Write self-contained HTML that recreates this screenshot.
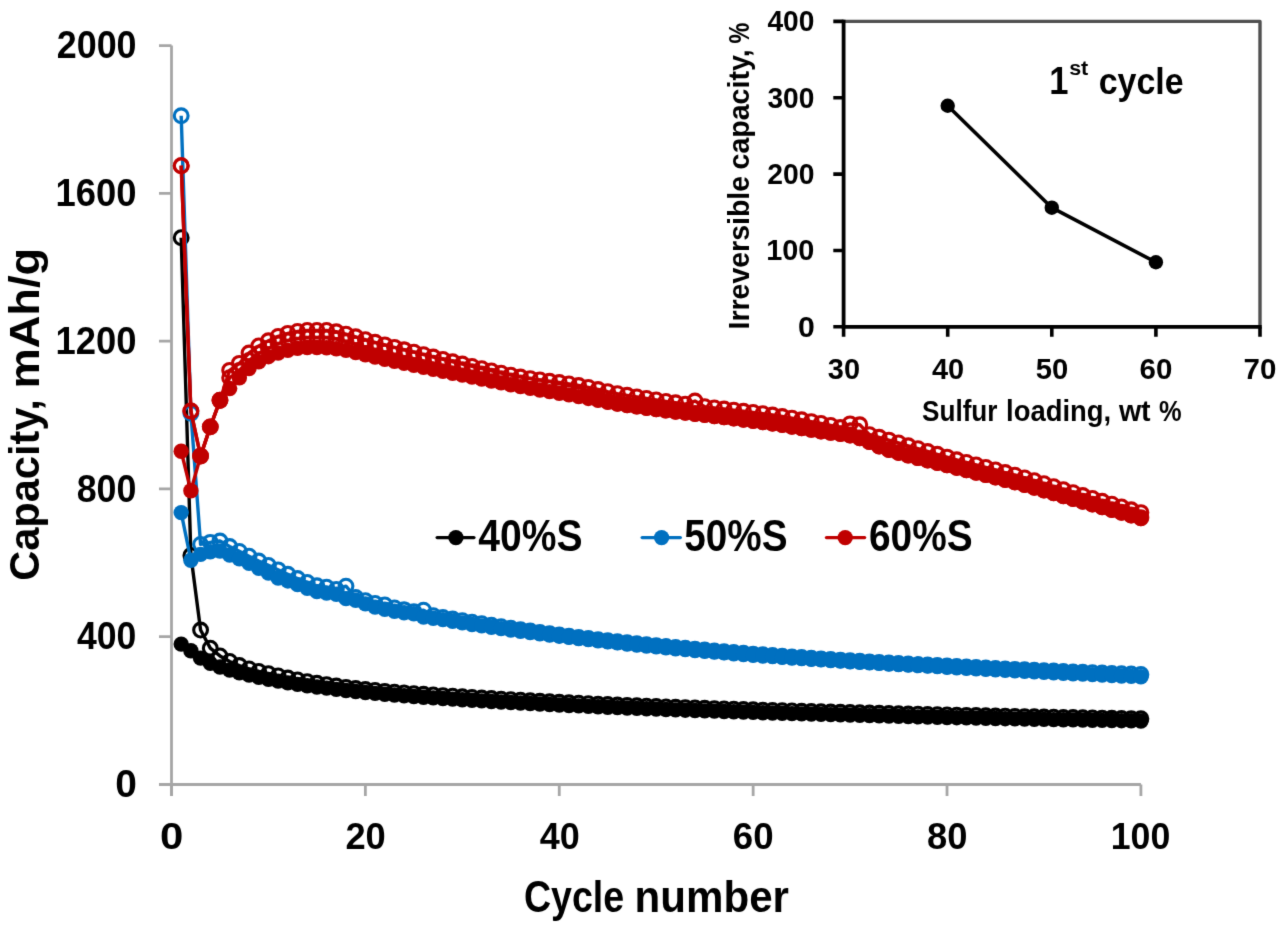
<!DOCTYPE html>
<html><head><meta charset="utf-8"><title>Capacity vs cycle number</title>
<style>html,body{margin:0;padding:0;background:#fff;overflow:hidden}svg{display:block}</style></head>
<body><svg width="1280" height="927" viewBox="0 0 1280 927">
<defs><filter id="soft" x="-2%" y="-2%" width="104%" height="104%" color-interpolation-filters="sRGB"><feConvolveMatrix order="3" kernelMatrix="0.0121 0.0858 0.0121 0.0858 0.6084 0.0858 0.0121 0.0858 0.0121" divisor="1" edgeMode="duplicate" preserveAlpha="false"/></filter></defs>
<rect width="1280" height="927" fill="#fff"/>
<g filter="url(#soft)">
<path d="M171.50,45.60 L171.50,796 M159,784.50 L1140.90,784.50" stroke="#a6a6a6" stroke-width="2.8" fill="none"/><path d="M159,784.50 L171.50,784.50 M159,636.72 L171.50,636.72 M159,488.94 L171.50,488.94 M159,341.16 L171.50,341.16 M159,193.38 L171.50,193.38 M159,45.60 L171.50,45.60 M171.50,784.50 L171.50,796 M365.38,784.50 L365.38,796 M559.26,784.50 L559.26,796 M753.14,784.50 L753.14,796 M947.02,784.50 L947.02,796 M1140.90,784.50 L1140.90,796 " stroke="#a6a6a6" stroke-width="2.8" fill="none"/>
<path d="M181.19,237.71 L190.89,555.44 L200.58,630.07 L210.28,648.17 L219.97,655.93 L229.66,661.47 L239.36,665.54 L249.05,668.86 L258.75,671.41 L268.44,673.66 L278.13,675.88 L287.83,678.00 L297.52,679.95 L307.22,681.70 L316.91,683.27 L326.60,684.71 L336.30,686.07 L345.99,687.35 L355.69,688.52 L365.38,689.55 L375.07,690.47 L384.77,691.33 L394.46,692.14 L404.16,692.90 L413.85,693.62 L423.54,694.30 L433.24,694.96 L442.93,695.59 L452.63,696.20 L462.32,696.80 L472.01,697.40 L481.71,697.98 L491.40,698.55 L501.10,699.12 L510.79,699.67 L520.48,700.21 L530.18,700.74 L539.87,701.26 L549.57,701.77 L559.26,702.26 L568.95,702.75 L578.65,703.22 L588.34,703.68 L598.04,704.13 L607.73,704.56 L617.42,704.99 L627.12,705.40 L636.81,705.79 L646.51,706.18 L656.20,706.55 L665.89,706.90 L675.59,707.26 L685.28,707.60 L694.98,707.94 L704.67,708.27 L714.36,708.59 L724.06,708.91 L733.75,709.22 L743.45,709.52 L753.14,709.82 L762.83,710.12 L772.53,710.40 L782.22,710.69 L791.92,710.97 L801.61,711.24 L811.30,711.51 L821.00,711.77 L830.69,712.03 L840.39,712.29 L850.08,712.54 L859.77,712.79 L869.47,713.03 L879.16,713.28 L888.86,713.51 L898.55,713.75 L908.24,713.99 L917.94,714.22 L927.63,714.45 L937.33,714.67 L947.02,714.90 L956.71,715.12 L966.41,715.34 L976.10,715.56 L985.80,715.77 L995.49,715.98 L1005.18,716.19 L1014.88,716.39 L1024.57,716.59 L1034.27,716.79 L1043.96,716.99 L1053.65,717.18 L1063.35,717.36 L1073.04,717.55 L1082.74,717.73 L1092.43,717.91 L1102.12,718.08 L1111.82,718.25 L1121.51,718.42 L1131.21,718.58 L1140.90,718.74" fill="none" stroke="#000000" stroke-width="3.4" stroke-linejoin="round"/>
<g fill="none" stroke="#000000" stroke-width="3.1"><circle cx="181.19" cy="237.71" r="6.90"/><circle cx="190.89" cy="555.44" r="6.90"/><circle cx="200.58" cy="630.07" r="6.90"/><circle cx="210.28" cy="648.17" r="6.90"/><circle cx="219.97" cy="655.93" r="6.90"/><circle cx="229.66" cy="661.47" r="6.90"/><circle cx="239.36" cy="665.54" r="6.90"/><circle cx="249.05" cy="668.86" r="6.90"/><circle cx="258.75" cy="671.41" r="6.90"/><circle cx="268.44" cy="673.66" r="6.90"/><circle cx="278.13" cy="675.88" r="6.90"/><circle cx="287.83" cy="678.00" r="6.90"/><circle cx="297.52" cy="679.95" r="6.90"/><circle cx="307.22" cy="681.70" r="6.90"/><circle cx="316.91" cy="683.27" r="6.90"/><circle cx="326.60" cy="684.71" r="6.90"/><circle cx="336.30" cy="686.07" r="6.90"/><circle cx="345.99" cy="687.35" r="6.90"/><circle cx="355.69" cy="688.52" r="6.90"/><circle cx="365.38" cy="689.55" r="6.90"/><circle cx="375.07" cy="690.47" r="6.90"/><circle cx="384.77" cy="691.33" r="6.90"/><circle cx="394.46" cy="692.14" r="6.90"/><circle cx="404.16" cy="692.90" r="6.90"/><circle cx="413.85" cy="693.62" r="6.90"/><circle cx="423.54" cy="694.30" r="6.90"/><circle cx="433.24" cy="694.96" r="6.90"/><circle cx="442.93" cy="695.59" r="6.90"/><circle cx="452.63" cy="696.20" r="6.90"/><circle cx="462.32" cy="696.80" r="6.90"/><circle cx="472.01" cy="697.40" r="6.90"/><circle cx="481.71" cy="697.98" r="6.90"/><circle cx="491.40" cy="698.55" r="6.90"/><circle cx="501.10" cy="699.12" r="6.90"/><circle cx="510.79" cy="699.67" r="6.90"/><circle cx="520.48" cy="700.21" r="6.90"/><circle cx="530.18" cy="700.74" r="6.90"/><circle cx="539.87" cy="701.26" r="6.90"/><circle cx="549.57" cy="701.77" r="6.90"/><circle cx="559.26" cy="702.26" r="6.90"/><circle cx="568.95" cy="702.75" r="6.90"/><circle cx="578.65" cy="703.22" r="6.90"/><circle cx="588.34" cy="703.68" r="6.90"/><circle cx="598.04" cy="704.13" r="6.90"/><circle cx="607.73" cy="704.56" r="6.90"/><circle cx="617.42" cy="704.99" r="6.90"/><circle cx="627.12" cy="705.40" r="6.90"/><circle cx="636.81" cy="705.79" r="6.90"/><circle cx="646.51" cy="706.18" r="6.90"/><circle cx="656.20" cy="706.55" r="6.90"/><circle cx="665.89" cy="706.90" r="6.90"/><circle cx="675.59" cy="707.26" r="6.90"/><circle cx="685.28" cy="707.60" r="6.90"/><circle cx="694.98" cy="707.94" r="6.90"/><circle cx="704.67" cy="708.27" r="6.90"/><circle cx="714.36" cy="708.59" r="6.90"/><circle cx="724.06" cy="708.91" r="6.90"/><circle cx="733.75" cy="709.22" r="6.90"/><circle cx="743.45" cy="709.52" r="6.90"/><circle cx="753.14" cy="709.82" r="6.90"/><circle cx="762.83" cy="710.12" r="6.90"/><circle cx="772.53" cy="710.40" r="6.90"/><circle cx="782.22" cy="710.69" r="6.90"/><circle cx="791.92" cy="710.97" r="6.90"/><circle cx="801.61" cy="711.24" r="6.90"/><circle cx="811.30" cy="711.51" r="6.90"/><circle cx="821.00" cy="711.77" r="6.90"/><circle cx="830.69" cy="712.03" r="6.90"/><circle cx="840.39" cy="712.29" r="6.90"/><circle cx="850.08" cy="712.54" r="6.90"/><circle cx="859.77" cy="712.79" r="6.90"/><circle cx="869.47" cy="713.03" r="6.90"/><circle cx="879.16" cy="713.28" r="6.90"/><circle cx="888.86" cy="713.51" r="6.90"/><circle cx="898.55" cy="713.75" r="6.90"/><circle cx="908.24" cy="713.99" r="6.90"/><circle cx="917.94" cy="714.22" r="6.90"/><circle cx="927.63" cy="714.45" r="6.90"/><circle cx="937.33" cy="714.67" r="6.90"/><circle cx="947.02" cy="714.90" r="6.90"/><circle cx="956.71" cy="715.12" r="6.90"/><circle cx="966.41" cy="715.34" r="6.90"/><circle cx="976.10" cy="715.56" r="6.90"/><circle cx="985.80" cy="715.77" r="6.90"/><circle cx="995.49" cy="715.98" r="6.90"/><circle cx="1005.18" cy="716.19" r="6.90"/><circle cx="1014.88" cy="716.39" r="6.90"/><circle cx="1024.57" cy="716.59" r="6.90"/><circle cx="1034.27" cy="716.79" r="6.90"/><circle cx="1043.96" cy="716.99" r="6.90"/><circle cx="1053.65" cy="717.18" r="6.90"/><circle cx="1063.35" cy="717.36" r="6.90"/><circle cx="1073.04" cy="717.55" r="6.90"/><circle cx="1082.74" cy="717.73" r="6.90"/><circle cx="1092.43" cy="717.91" r="6.90"/><circle cx="1102.12" cy="718.08" r="6.90"/><circle cx="1111.82" cy="718.25" r="6.90"/><circle cx="1121.51" cy="718.42" r="6.90"/><circle cx="1131.21" cy="718.58" r="6.90"/><circle cx="1140.90" cy="718.74" r="6.90"/></g>
<path d="M181.19,644.11 L190.89,650.76 L200.58,658.15 L210.28,663.32 L219.97,666.97 L229.66,669.97 L239.36,672.70 L249.05,675.16 L258.75,677.36 L268.44,679.34 L278.13,681.17 L287.83,682.85 L297.52,684.38 L307.22,685.74 L316.91,686.97 L326.60,688.17 L336.30,689.35 L345.99,690.48 L355.69,691.55 L365.38,692.51 L375.07,693.39 L384.77,694.23 L394.46,695.04 L404.16,695.81 L413.85,696.54 L423.54,697.24 L433.24,697.91 L442.93,698.55 L452.63,699.16 L462.32,699.75 L472.01,700.32 L481.71,700.89 L491.40,701.45 L501.10,701.99 L510.79,702.52 L520.48,703.04 L530.18,703.55 L539.87,704.05 L549.57,704.53 L559.26,705.01 L568.95,705.47 L578.65,705.92 L588.34,706.36 L598.04,706.79 L607.73,707.21 L617.42,707.61 L627.12,708.01 L636.81,708.40 L646.51,708.77 L656.20,709.13 L665.89,709.49 L675.59,709.84 L685.28,710.18 L694.98,710.51 L704.67,710.85 L714.36,711.17 L724.06,711.49 L733.75,711.80 L743.45,712.11 L753.14,712.42 L762.83,712.72 L772.53,713.01 L782.22,713.30 L791.92,713.58 L801.61,713.86 L811.30,714.13 L821.00,714.40 L830.69,714.66 L840.39,714.92 L850.08,715.17 L859.77,715.42 L869.47,715.67 L879.16,715.91 L888.86,716.14 L898.55,716.37 L908.24,716.60 L917.94,716.83 L927.63,717.04 L937.33,717.26 L947.02,717.47 L956.71,717.68 L966.41,717.89 L976.10,718.09 L985.80,718.29 L995.49,718.48 L1005.18,718.68 L1014.88,718.87 L1024.57,719.05 L1034.27,719.23 L1043.96,719.41 L1053.65,719.58 L1063.35,719.75 L1073.04,719.92 L1082.74,720.08 L1092.43,720.24 L1102.12,720.39 L1111.82,720.54 L1121.51,720.68 L1131.21,720.82 L1140.90,720.95" fill="none" stroke="#000000" stroke-width="3.4" stroke-linejoin="round"/>
<g fill="#000000"><circle cx="181.19" cy="644.11" r="7.70"/><circle cx="190.89" cy="650.76" r="7.70"/><circle cx="200.58" cy="658.15" r="7.70"/><circle cx="210.28" cy="663.32" r="7.70"/><circle cx="219.97" cy="666.97" r="7.70"/><circle cx="229.66" cy="669.97" r="7.70"/><circle cx="239.36" cy="672.70" r="7.70"/><circle cx="249.05" cy="675.16" r="7.70"/><circle cx="258.75" cy="677.36" r="7.70"/><circle cx="268.44" cy="679.34" r="7.70"/><circle cx="278.13" cy="681.17" r="7.70"/><circle cx="287.83" cy="682.85" r="7.70"/><circle cx="297.52" cy="684.38" r="7.70"/><circle cx="307.22" cy="685.74" r="7.70"/><circle cx="316.91" cy="686.97" r="7.70"/><circle cx="326.60" cy="688.17" r="7.70"/><circle cx="336.30" cy="689.35" r="7.70"/><circle cx="345.99" cy="690.48" r="7.70"/><circle cx="355.69" cy="691.55" r="7.70"/><circle cx="365.38" cy="692.51" r="7.70"/><circle cx="375.07" cy="693.39" r="7.70"/><circle cx="384.77" cy="694.23" r="7.70"/><circle cx="394.46" cy="695.04" r="7.70"/><circle cx="404.16" cy="695.81" r="7.70"/><circle cx="413.85" cy="696.54" r="7.70"/><circle cx="423.54" cy="697.24" r="7.70"/><circle cx="433.24" cy="697.91" r="7.70"/><circle cx="442.93" cy="698.55" r="7.70"/><circle cx="452.63" cy="699.16" r="7.70"/><circle cx="462.32" cy="699.75" r="7.70"/><circle cx="472.01" cy="700.32" r="7.70"/><circle cx="481.71" cy="700.89" r="7.70"/><circle cx="491.40" cy="701.45" r="7.70"/><circle cx="501.10" cy="701.99" r="7.70"/><circle cx="510.79" cy="702.52" r="7.70"/><circle cx="520.48" cy="703.04" r="7.70"/><circle cx="530.18" cy="703.55" r="7.70"/><circle cx="539.87" cy="704.05" r="7.70"/><circle cx="549.57" cy="704.53" r="7.70"/><circle cx="559.26" cy="705.01" r="7.70"/><circle cx="568.95" cy="705.47" r="7.70"/><circle cx="578.65" cy="705.92" r="7.70"/><circle cx="588.34" cy="706.36" r="7.70"/><circle cx="598.04" cy="706.79" r="7.70"/><circle cx="607.73" cy="707.21" r="7.70"/><circle cx="617.42" cy="707.61" r="7.70"/><circle cx="627.12" cy="708.01" r="7.70"/><circle cx="636.81" cy="708.40" r="7.70"/><circle cx="646.51" cy="708.77" r="7.70"/><circle cx="656.20" cy="709.13" r="7.70"/><circle cx="665.89" cy="709.49" r="7.70"/><circle cx="675.59" cy="709.84" r="7.70"/><circle cx="685.28" cy="710.18" r="7.70"/><circle cx="694.98" cy="710.51" r="7.70"/><circle cx="704.67" cy="710.85" r="7.70"/><circle cx="714.36" cy="711.17" r="7.70"/><circle cx="724.06" cy="711.49" r="7.70"/><circle cx="733.75" cy="711.80" r="7.70"/><circle cx="743.45" cy="712.11" r="7.70"/><circle cx="753.14" cy="712.42" r="7.70"/><circle cx="762.83" cy="712.72" r="7.70"/><circle cx="772.53" cy="713.01" r="7.70"/><circle cx="782.22" cy="713.30" r="7.70"/><circle cx="791.92" cy="713.58" r="7.70"/><circle cx="801.61" cy="713.86" r="7.70"/><circle cx="811.30" cy="714.13" r="7.70"/><circle cx="821.00" cy="714.40" r="7.70"/><circle cx="830.69" cy="714.66" r="7.70"/><circle cx="840.39" cy="714.92" r="7.70"/><circle cx="850.08" cy="715.17" r="7.70"/><circle cx="859.77" cy="715.42" r="7.70"/><circle cx="869.47" cy="715.67" r="7.70"/><circle cx="879.16" cy="715.91" r="7.70"/><circle cx="888.86" cy="716.14" r="7.70"/><circle cx="898.55" cy="716.37" r="7.70"/><circle cx="908.24" cy="716.60" r="7.70"/><circle cx="917.94" cy="716.83" r="7.70"/><circle cx="927.63" cy="717.04" r="7.70"/><circle cx="937.33" cy="717.26" r="7.70"/><circle cx="947.02" cy="717.47" r="7.70"/><circle cx="956.71" cy="717.68" r="7.70"/><circle cx="966.41" cy="717.89" r="7.70"/><circle cx="976.10" cy="718.09" r="7.70"/><circle cx="985.80" cy="718.29" r="7.70"/><circle cx="995.49" cy="718.48" r="7.70"/><circle cx="1005.18" cy="718.68" r="7.70"/><circle cx="1014.88" cy="718.87" r="7.70"/><circle cx="1024.57" cy="719.05" r="7.70"/><circle cx="1034.27" cy="719.23" r="7.70"/><circle cx="1043.96" cy="719.41" r="7.70"/><circle cx="1053.65" cy="719.58" r="7.70"/><circle cx="1063.35" cy="719.75" r="7.70"/><circle cx="1073.04" cy="719.92" r="7.70"/><circle cx="1082.74" cy="720.08" r="7.70"/><circle cx="1092.43" cy="720.24" r="7.70"/><circle cx="1102.12" cy="720.39" r="7.70"/><circle cx="1111.82" cy="720.54" r="7.70"/><circle cx="1121.51" cy="720.68" r="7.70"/><circle cx="1131.21" cy="720.82" r="7.70"/><circle cx="1140.90" cy="720.95" r="7.70"/></g>
<path d="M181.19,115.80 L190.89,413.20 L200.58,544.36 L210.28,542.33 L219.97,541.03 L229.66,546.57 L239.36,551.38 L249.05,556.18 L258.75,560.98 L268.44,565.42 L278.13,569.85 L287.83,574.28 L297.52,578.53 L307.22,582.41 L316.91,585.74 L326.60,587.21 L336.30,589.43 L345.99,586.11 L355.69,597.56 L365.38,600.66 L375.07,603.47 L384.77,604.95 L394.46,607.90 L404.16,609.75 L413.85,611.60 L423.54,610.12 L433.24,615.66 L442.93,617.38 L452.63,619.04 L462.32,620.64 L472.01,622.20 L481.71,623.72 L491.40,625.22 L501.10,626.71 L510.79,628.18 L520.48,629.62 L530.18,631.03 L539.87,632.40 L549.57,633.73 L559.26,635.01 L568.95,636.23 L578.65,637.40 L588.34,638.53 L598.04,639.63 L607.73,640.69 L617.42,641.72 L627.12,642.72 L636.81,643.70 L646.51,644.65 L656.20,645.59 L665.89,646.51 L675.59,647.41 L685.28,648.31 L694.98,649.19 L704.67,650.05 L714.36,650.90 L724.06,651.73 L733.75,652.54 L743.45,653.32 L753.14,654.08 L762.83,654.82 L772.53,655.54 L782.22,656.23 L791.92,656.90 L801.61,657.57 L811.30,658.22 L821.00,658.85 L830.69,659.48 L840.39,660.09 L850.08,660.69 L859.77,661.28 L869.47,661.85 L879.16,662.42 L888.86,662.97 L898.55,663.51 L908.24,664.04 L917.94,664.56 L927.63,665.07 L937.33,665.57 L947.02,666.06 L956.71,666.55 L966.41,667.03 L976.10,667.50 L985.80,667.97 L995.49,668.43 L1005.18,668.89 L1014.88,669.34 L1024.57,669.78 L1034.27,670.21 L1043.96,670.64 L1053.65,671.05 L1063.35,671.46 L1073.04,671.86 L1082.74,672.25 L1092.43,672.64 L1102.12,673.01 L1111.82,673.37 L1121.51,673.73 L1131.21,674.07 L1140.90,674.40" fill="none" stroke="#0070c0" stroke-width="3.4" stroke-linejoin="round"/>
<g fill="none" stroke="#0070c0" stroke-width="3.1"><circle cx="181.19" cy="115.80" r="6.90"/><circle cx="190.89" cy="413.20" r="6.90"/><circle cx="200.58" cy="544.36" r="6.90"/><circle cx="210.28" cy="542.33" r="6.90"/><circle cx="219.97" cy="541.03" r="6.90"/><circle cx="229.66" cy="546.57" r="6.90"/><circle cx="239.36" cy="551.38" r="6.90"/><circle cx="249.05" cy="556.18" r="6.90"/><circle cx="258.75" cy="560.98" r="6.90"/><circle cx="268.44" cy="565.42" r="6.90"/><circle cx="278.13" cy="569.85" r="6.90"/><circle cx="287.83" cy="574.28" r="6.90"/><circle cx="297.52" cy="578.53" r="6.90"/><circle cx="307.22" cy="582.41" r="6.90"/><circle cx="316.91" cy="585.74" r="6.90"/><circle cx="326.60" cy="587.21" r="6.90"/><circle cx="336.30" cy="589.43" r="6.90"/><circle cx="345.99" cy="586.11" r="6.90"/><circle cx="355.69" cy="597.56" r="6.90"/><circle cx="365.38" cy="600.66" r="6.90"/><circle cx="375.07" cy="603.47" r="6.90"/><circle cx="384.77" cy="604.95" r="6.90"/><circle cx="394.46" cy="607.90" r="6.90"/><circle cx="404.16" cy="609.75" r="6.90"/><circle cx="413.85" cy="611.60" r="6.90"/><circle cx="423.54" cy="610.12" r="6.90"/><circle cx="433.24" cy="615.66" r="6.90"/><circle cx="442.93" cy="617.38" r="6.90"/><circle cx="452.63" cy="619.04" r="6.90"/><circle cx="462.32" cy="620.64" r="6.90"/><circle cx="472.01" cy="622.20" r="6.90"/><circle cx="481.71" cy="623.72" r="6.90"/><circle cx="491.40" cy="625.22" r="6.90"/><circle cx="501.10" cy="626.71" r="6.90"/><circle cx="510.79" cy="628.18" r="6.90"/><circle cx="520.48" cy="629.62" r="6.90"/><circle cx="530.18" cy="631.03" r="6.90"/><circle cx="539.87" cy="632.40" r="6.90"/><circle cx="549.57" cy="633.73" r="6.90"/><circle cx="559.26" cy="635.01" r="6.90"/><circle cx="568.95" cy="636.23" r="6.90"/><circle cx="578.65" cy="637.40" r="6.90"/><circle cx="588.34" cy="638.53" r="6.90"/><circle cx="598.04" cy="639.63" r="6.90"/><circle cx="607.73" cy="640.69" r="6.90"/><circle cx="617.42" cy="641.72" r="6.90"/><circle cx="627.12" cy="642.72" r="6.90"/><circle cx="636.81" cy="643.70" r="6.90"/><circle cx="646.51" cy="644.65" r="6.90"/><circle cx="656.20" cy="645.59" r="6.90"/><circle cx="665.89" cy="646.51" r="6.90"/><circle cx="675.59" cy="647.41" r="6.90"/><circle cx="685.28" cy="648.31" r="6.90"/><circle cx="694.98" cy="649.19" r="6.90"/><circle cx="704.67" cy="650.05" r="6.90"/><circle cx="714.36" cy="650.90" r="6.90"/><circle cx="724.06" cy="651.73" r="6.90"/><circle cx="733.75" cy="652.54" r="6.90"/><circle cx="743.45" cy="653.32" r="6.90"/><circle cx="753.14" cy="654.08" r="6.90"/><circle cx="762.83" cy="654.82" r="6.90"/><circle cx="772.53" cy="655.54" r="6.90"/><circle cx="782.22" cy="656.23" r="6.90"/><circle cx="791.92" cy="656.90" r="6.90"/><circle cx="801.61" cy="657.57" r="6.90"/><circle cx="811.30" cy="658.22" r="6.90"/><circle cx="821.00" cy="658.85" r="6.90"/><circle cx="830.69" cy="659.48" r="6.90"/><circle cx="840.39" cy="660.09" r="6.90"/><circle cx="850.08" cy="660.69" r="6.90"/><circle cx="859.77" cy="661.28" r="6.90"/><circle cx="869.47" cy="661.85" r="6.90"/><circle cx="879.16" cy="662.42" r="6.90"/><circle cx="888.86" cy="662.97" r="6.90"/><circle cx="898.55" cy="663.51" r="6.90"/><circle cx="908.24" cy="664.04" r="6.90"/><circle cx="917.94" cy="664.56" r="6.90"/><circle cx="927.63" cy="665.07" r="6.90"/><circle cx="937.33" cy="665.57" r="6.90"/><circle cx="947.02" cy="666.06" r="6.90"/><circle cx="956.71" cy="666.55" r="6.90"/><circle cx="966.41" cy="667.03" r="6.90"/><circle cx="976.10" cy="667.50" r="6.90"/><circle cx="985.80" cy="667.97" r="6.90"/><circle cx="995.49" cy="668.43" r="6.90"/><circle cx="1005.18" cy="668.89" r="6.90"/><circle cx="1014.88" cy="669.34" r="6.90"/><circle cx="1024.57" cy="669.78" r="6.90"/><circle cx="1034.27" cy="670.21" r="6.90"/><circle cx="1043.96" cy="670.64" r="6.90"/><circle cx="1053.65" cy="671.05" r="6.90"/><circle cx="1063.35" cy="671.46" r="6.90"/><circle cx="1073.04" cy="671.86" r="6.90"/><circle cx="1082.74" cy="672.25" r="6.90"/><circle cx="1092.43" cy="672.64" r="6.90"/><circle cx="1102.12" cy="673.01" r="6.90"/><circle cx="1111.82" cy="673.37" r="6.90"/><circle cx="1121.51" cy="673.73" r="6.90"/><circle cx="1131.21" cy="674.07" r="6.90"/><circle cx="1140.90" cy="674.40" r="6.90"/></g>
<path d="M181.19,512.58 L190.89,560.24 L200.58,554.33 L210.28,551.75 L219.97,551.01 L229.66,555.07 L239.36,558.91 L249.05,563.38 L258.75,568.37 L268.44,573.17 L278.13,577.98 L287.83,580.93 L297.52,584.63 L307.22,588.32 L316.91,591.65 L326.60,593.12 L336.30,594.23 L345.99,598.67 L355.69,600.29 L365.38,603.84 L375.07,607.16 L384.77,609.20 L394.46,611.23 L404.16,612.71 L413.85,613.81 L423.54,617.14 L433.24,618.25 L442.93,619.62 L452.63,621.19 L462.32,622.83 L472.01,624.45 L481.71,625.92 L491.40,627.30 L501.10,628.65 L510.79,629.98 L520.48,631.27 L530.18,632.53 L539.87,633.77 L549.57,634.99 L559.26,636.18 L568.95,637.34 L578.65,638.49 L588.34,639.63 L598.04,640.74 L607.73,641.83 L617.42,642.90 L627.12,643.94 L636.81,644.96 L646.51,645.94 L656.20,646.88 L665.89,647.80 L675.59,648.70 L685.28,649.58 L694.98,650.44 L704.67,651.29 L714.36,652.11 L724.06,652.92 L733.75,653.71 L743.45,654.47 L753.14,655.22 L762.83,655.94 L772.53,656.65 L782.22,657.33 L791.92,658.00 L801.61,658.65 L811.30,659.29 L821.00,659.91 L830.69,660.52 L840.39,661.12 L850.08,661.71 L859.77,662.29 L869.47,662.86 L879.16,663.42 L888.86,663.97 L898.55,664.52 L908.24,665.07 L917.94,665.60 L927.63,666.14 L937.33,666.67 L947.02,667.20 L956.71,667.73 L966.41,668.25 L976.10,668.77 L985.80,669.28 L995.49,669.79 L1005.18,670.29 L1014.88,670.79 L1024.57,671.29 L1034.27,671.78 L1043.96,672.26 L1053.65,672.74 L1063.35,673.22 L1073.04,673.69 L1082.74,674.15 L1092.43,674.61 L1102.12,675.06 L1111.82,675.50 L1121.51,675.94 L1131.21,676.38 L1140.90,676.81" fill="none" stroke="#0070c0" stroke-width="3.4" stroke-linejoin="round"/>
<g fill="#0070c0"><circle cx="181.19" cy="512.58" r="7.70"/><circle cx="190.89" cy="560.24" r="7.70"/><circle cx="200.58" cy="554.33" r="7.70"/><circle cx="210.28" cy="551.75" r="7.70"/><circle cx="219.97" cy="551.01" r="7.70"/><circle cx="229.66" cy="555.07" r="7.70"/><circle cx="239.36" cy="558.91" r="7.70"/><circle cx="249.05" cy="563.38" r="7.70"/><circle cx="258.75" cy="568.37" r="7.70"/><circle cx="268.44" cy="573.17" r="7.70"/><circle cx="278.13" cy="577.98" r="7.70"/><circle cx="287.83" cy="580.93" r="7.70"/><circle cx="297.52" cy="584.63" r="7.70"/><circle cx="307.22" cy="588.32" r="7.70"/><circle cx="316.91" cy="591.65" r="7.70"/><circle cx="326.60" cy="593.12" r="7.70"/><circle cx="336.30" cy="594.23" r="7.70"/><circle cx="345.99" cy="598.67" r="7.70"/><circle cx="355.69" cy="600.29" r="7.70"/><circle cx="365.38" cy="603.84" r="7.70"/><circle cx="375.07" cy="607.16" r="7.70"/><circle cx="384.77" cy="609.20" r="7.70"/><circle cx="394.46" cy="611.23" r="7.70"/><circle cx="404.16" cy="612.71" r="7.70"/><circle cx="413.85" cy="613.81" r="7.70"/><circle cx="423.54" cy="617.14" r="7.70"/><circle cx="433.24" cy="618.25" r="7.70"/><circle cx="442.93" cy="619.62" r="7.70"/><circle cx="452.63" cy="621.19" r="7.70"/><circle cx="462.32" cy="622.83" r="7.70"/><circle cx="472.01" cy="624.45" r="7.70"/><circle cx="481.71" cy="625.92" r="7.70"/><circle cx="491.40" cy="627.30" r="7.70"/><circle cx="501.10" cy="628.65" r="7.70"/><circle cx="510.79" cy="629.98" r="7.70"/><circle cx="520.48" cy="631.27" r="7.70"/><circle cx="530.18" cy="632.53" r="7.70"/><circle cx="539.87" cy="633.77" r="7.70"/><circle cx="549.57" cy="634.99" r="7.70"/><circle cx="559.26" cy="636.18" r="7.70"/><circle cx="568.95" cy="637.34" r="7.70"/><circle cx="578.65" cy="638.49" r="7.70"/><circle cx="588.34" cy="639.63" r="7.70"/><circle cx="598.04" cy="640.74" r="7.70"/><circle cx="607.73" cy="641.83" r="7.70"/><circle cx="617.42" cy="642.90" r="7.70"/><circle cx="627.12" cy="643.94" r="7.70"/><circle cx="636.81" cy="644.96" r="7.70"/><circle cx="646.51" cy="645.94" r="7.70"/><circle cx="656.20" cy="646.88" r="7.70"/><circle cx="665.89" cy="647.80" r="7.70"/><circle cx="675.59" cy="648.70" r="7.70"/><circle cx="685.28" cy="649.58" r="7.70"/><circle cx="694.98" cy="650.44" r="7.70"/><circle cx="704.67" cy="651.29" r="7.70"/><circle cx="714.36" cy="652.11" r="7.70"/><circle cx="724.06" cy="652.92" r="7.70"/><circle cx="733.75" cy="653.71" r="7.70"/><circle cx="743.45" cy="654.47" r="7.70"/><circle cx="753.14" cy="655.22" r="7.70"/><circle cx="762.83" cy="655.94" r="7.70"/><circle cx="772.53" cy="656.65" r="7.70"/><circle cx="782.22" cy="657.33" r="7.70"/><circle cx="791.92" cy="658.00" r="7.70"/><circle cx="801.61" cy="658.65" r="7.70"/><circle cx="811.30" cy="659.29" r="7.70"/><circle cx="821.00" cy="659.91" r="7.70"/><circle cx="830.69" cy="660.52" r="7.70"/><circle cx="840.39" cy="661.12" r="7.70"/><circle cx="850.08" cy="661.71" r="7.70"/><circle cx="859.77" cy="662.29" r="7.70"/><circle cx="869.47" cy="662.86" r="7.70"/><circle cx="879.16" cy="663.42" r="7.70"/><circle cx="888.86" cy="663.97" r="7.70"/><circle cx="898.55" cy="664.52" r="7.70"/><circle cx="908.24" cy="665.07" r="7.70"/><circle cx="917.94" cy="665.60" r="7.70"/><circle cx="927.63" cy="666.14" r="7.70"/><circle cx="937.33" cy="666.67" r="7.70"/><circle cx="947.02" cy="667.20" r="7.70"/><circle cx="956.71" cy="667.73" r="7.70"/><circle cx="966.41" cy="668.25" r="7.70"/><circle cx="976.10" cy="668.77" r="7.70"/><circle cx="985.80" cy="669.28" r="7.70"/><circle cx="995.49" cy="669.79" r="7.70"/><circle cx="1005.18" cy="670.29" r="7.70"/><circle cx="1014.88" cy="670.79" r="7.70"/><circle cx="1024.57" cy="671.29" r="7.70"/><circle cx="1034.27" cy="671.78" r="7.70"/><circle cx="1043.96" cy="672.26" r="7.70"/><circle cx="1053.65" cy="672.74" r="7.70"/><circle cx="1063.35" cy="673.22" r="7.70"/><circle cx="1073.04" cy="673.69" r="7.70"/><circle cx="1082.74" cy="674.15" r="7.70"/><circle cx="1092.43" cy="674.61" r="7.70"/><circle cx="1102.12" cy="675.06" r="7.70"/><circle cx="1111.82" cy="675.50" r="7.70"/><circle cx="1121.51" cy="675.94" r="7.70"/><circle cx="1131.21" cy="676.38" r="7.70"/><circle cx="1140.90" cy="676.81" r="7.70"/></g>
<path d="M181.19,165.67 L190.89,410.99 L200.58,456.06 L210.28,426.87 L219.97,400.27 L229.66,370.35 L239.36,363.33 L249.05,352.98 L258.75,345.96 L268.44,340.79 L278.13,336.36 L287.83,333.34 L297.52,331.44 L307.22,330.45 L316.91,330.45 L326.60,330.45 L336.30,331.74 L345.99,334.14 L355.69,336.80 L365.38,339.68 L375.07,342.31 L384.77,344.85 L394.46,347.33 L404.16,349.77 L413.85,352.20 L423.54,354.63 L433.24,357.05 L442.93,359.43 L452.63,361.77 L462.32,364.07 L472.01,366.36 L481.71,368.67 L491.40,370.95 L501.10,373.13 L510.79,375.17 L520.48,377.00 L530.18,378.58 L539.87,379.97 L549.57,381.26 L559.26,382.55 L568.95,383.93 L578.65,385.49 L588.34,387.39 L598.04,389.53 L607.73,391.69 L617.42,393.62 L627.12,395.32 L636.81,396.93 L646.51,398.47 L656.20,399.95 L665.89,401.38 L675.59,402.76 L685.28,404.11 L694.98,401.01 L704.67,406.72 L714.36,407.90 L724.06,409.03 L733.75,410.14 L743.45,411.27 L753.14,412.44 L762.83,413.69 L772.53,415.05 L782.22,416.53 L791.92,418.12 L801.61,419.80 L811.30,421.58 L821.00,423.44 L830.69,425.39 L840.39,427.49 L850.08,423.84 L859.77,424.76 L869.47,434.63 L879.16,437.31 L888.86,440.08 L898.55,442.90 L908.24,445.77 L917.94,448.64 L927.63,451.50 L937.33,454.32 L947.02,457.09 L956.71,459.77 L966.41,462.37 L976.10,464.92 L985.80,467.44 L995.49,469.96 L1005.18,472.52 L1014.88,475.14 L1024.57,477.86 L1034.27,480.70 L1043.96,483.66 L1053.65,486.67 L1063.35,489.68 L1073.04,492.63 L1082.74,495.53 L1092.43,498.42 L1102.12,501.28 L1111.82,504.14 L1121.51,506.97 L1131.21,509.79 L1140.90,512.58" fill="none" stroke="#c00000" stroke-width="3.4" stroke-linejoin="round"/>
<g fill="none" stroke="#c00000" stroke-width="3.1"><circle cx="181.19" cy="165.67" r="6.90"/><circle cx="190.89" cy="410.99" r="6.90"/><circle cx="200.58" cy="456.06" r="6.90"/><circle cx="210.28" cy="426.87" r="6.90"/><circle cx="219.97" cy="400.27" r="6.90"/><circle cx="229.66" cy="370.35" r="6.90"/><circle cx="239.36" cy="363.33" r="6.90"/><circle cx="249.05" cy="352.98" r="6.90"/><circle cx="258.75" cy="345.96" r="6.90"/><circle cx="268.44" cy="340.79" r="6.90"/><circle cx="278.13" cy="336.36" r="6.90"/><circle cx="287.83" cy="333.34" r="6.90"/><circle cx="297.52" cy="331.44" r="6.90"/><circle cx="307.22" cy="330.45" r="6.90"/><circle cx="316.91" cy="330.45" r="6.90"/><circle cx="326.60" cy="330.45" r="6.90"/><circle cx="336.30" cy="331.74" r="6.90"/><circle cx="345.99" cy="334.14" r="6.90"/><circle cx="355.69" cy="336.80" r="6.90"/><circle cx="365.38" cy="339.68" r="6.90"/><circle cx="375.07" cy="342.31" r="6.90"/><circle cx="384.77" cy="344.85" r="6.90"/><circle cx="394.46" cy="347.33" r="6.90"/><circle cx="404.16" cy="349.77" r="6.90"/><circle cx="413.85" cy="352.20" r="6.90"/><circle cx="423.54" cy="354.63" r="6.90"/><circle cx="433.24" cy="357.05" r="6.90"/><circle cx="442.93" cy="359.43" r="6.90"/><circle cx="452.63" cy="361.77" r="6.90"/><circle cx="462.32" cy="364.07" r="6.90"/><circle cx="472.01" cy="366.36" r="6.90"/><circle cx="481.71" cy="368.67" r="6.90"/><circle cx="491.40" cy="370.95" r="6.90"/><circle cx="501.10" cy="373.13" r="6.90"/><circle cx="510.79" cy="375.17" r="6.90"/><circle cx="520.48" cy="377.00" r="6.90"/><circle cx="530.18" cy="378.58" r="6.90"/><circle cx="539.87" cy="379.97" r="6.90"/><circle cx="549.57" cy="381.26" r="6.90"/><circle cx="559.26" cy="382.55" r="6.90"/><circle cx="568.95" cy="383.93" r="6.90"/><circle cx="578.65" cy="385.49" r="6.90"/><circle cx="588.34" cy="387.39" r="6.90"/><circle cx="598.04" cy="389.53" r="6.90"/><circle cx="607.73" cy="391.69" r="6.90"/><circle cx="617.42" cy="393.62" r="6.90"/><circle cx="627.12" cy="395.32" r="6.90"/><circle cx="636.81" cy="396.93" r="6.90"/><circle cx="646.51" cy="398.47" r="6.90"/><circle cx="656.20" cy="399.95" r="6.90"/><circle cx="665.89" cy="401.38" r="6.90"/><circle cx="675.59" cy="402.76" r="6.90"/><circle cx="685.28" cy="404.11" r="6.90"/><circle cx="694.98" cy="401.01" r="6.90"/><circle cx="704.67" cy="406.72" r="6.90"/><circle cx="714.36" cy="407.90" r="6.90"/><circle cx="724.06" cy="409.03" r="6.90"/><circle cx="733.75" cy="410.14" r="6.90"/><circle cx="743.45" cy="411.27" r="6.90"/><circle cx="753.14" cy="412.44" r="6.90"/><circle cx="762.83" cy="413.69" r="6.90"/><circle cx="772.53" cy="415.05" r="6.90"/><circle cx="782.22" cy="416.53" r="6.90"/><circle cx="791.92" cy="418.12" r="6.90"/><circle cx="801.61" cy="419.80" r="6.90"/><circle cx="811.30" cy="421.58" r="6.90"/><circle cx="821.00" cy="423.44" r="6.90"/><circle cx="830.69" cy="425.39" r="6.90"/><circle cx="840.39" cy="427.49" r="6.90"/><circle cx="850.08" cy="423.84" r="6.90"/><circle cx="859.77" cy="424.76" r="6.90"/><circle cx="869.47" cy="434.63" r="6.90"/><circle cx="879.16" cy="437.31" r="6.90"/><circle cx="888.86" cy="440.08" r="6.90"/><circle cx="898.55" cy="442.90" r="6.90"/><circle cx="908.24" cy="445.77" r="6.90"/><circle cx="917.94" cy="448.64" r="6.90"/><circle cx="927.63" cy="451.50" r="6.90"/><circle cx="937.33" cy="454.32" r="6.90"/><circle cx="947.02" cy="457.09" r="6.90"/><circle cx="956.71" cy="459.77" r="6.90"/><circle cx="966.41" cy="462.37" r="6.90"/><circle cx="976.10" cy="464.92" r="6.90"/><circle cx="985.80" cy="467.44" r="6.90"/><circle cx="995.49" cy="469.96" r="6.90"/><circle cx="1005.18" cy="472.52" r="6.90"/><circle cx="1014.88" cy="475.14" r="6.90"/><circle cx="1024.57" cy="477.86" r="6.90"/><circle cx="1034.27" cy="480.70" r="6.90"/><circle cx="1043.96" cy="483.66" r="6.90"/><circle cx="1053.65" cy="486.67" r="6.90"/><circle cx="1063.35" cy="489.68" r="6.90"/><circle cx="1073.04" cy="492.63" r="6.90"/><circle cx="1082.74" cy="495.53" r="6.90"/><circle cx="1092.43" cy="498.42" r="6.90"/><circle cx="1102.12" cy="501.28" r="6.90"/><circle cx="1111.82" cy="504.14" r="6.90"/><circle cx="1121.51" cy="506.97" r="6.90"/><circle cx="1131.21" cy="509.79" r="6.90"/><circle cx="1140.90" cy="512.58" r="6.90"/></g>
<path d="M181.19,165.67 L190.89,410.99 L200.58,456.06 L210.28,426.87 L219.97,400.27 L229.66,377.74 L239.36,370.53 L249.05,360.37 L258.75,353.35 L268.44,348.18 L278.13,343.75 L287.83,340.73 L297.52,338.83 L307.22,337.83 L316.91,337.83 L326.60,337.83 L336.30,339.13 L345.99,341.53 L355.69,344.19 L365.38,347.07 L375.07,349.69 L384.77,352.06 L394.46,354.33 L404.16,356.55 L413.85,358.76 L423.54,360.97 L433.24,363.17 L442.93,365.34 L452.63,367.49 L462.32,369.61 L472.01,371.73 L481.71,373.86 L491.40,376.28 L501.10,378.62 L510.79,380.85 L520.48,382.96 L530.18,384.93 L539.87,386.81 L549.57,388.65 L559.26,390.51 L568.95,392.44 L578.65,394.47 L588.34,396.67 L598.04,398.97 L607.73,401.21 L617.42,403.23 L627.12,404.73 L636.81,406.15 L646.51,407.50 L656.20,408.78 L665.89,410.01 L675.59,411.20 L685.28,412.36 L694.98,413.50 L704.67,414.63 L714.36,415.76 L724.06,416.91 L733.75,418.07 L743.45,419.27 L753.14,420.52 L762.83,421.81 L772.53,423.18 L782.22,424.64 L791.92,426.20 L801.61,427.81 L811.30,429.41 L821.00,430.96 L830.69,432.41 L840.39,433.59 L850.08,435.00 L859.77,437.83 L869.47,441.65 L879.16,446.08 L888.86,449.45 L898.55,452.44 L908.24,455.15 L917.94,457.67 L927.63,460.08 L937.33,462.46 L947.02,464.91 L956.71,467.43 L966.41,469.88 L976.10,472.28 L985.80,474.66 L995.49,477.04 L1005.18,479.46 L1014.88,481.93 L1024.57,484.51 L1034.27,487.20 L1043.96,490.01 L1053.65,492.87 L1063.35,495.73 L1073.04,498.55 L1082.74,501.32 L1092.43,504.08 L1102.12,506.84 L1111.82,509.58 L1121.51,512.32 L1131.21,515.04 L1140.90,517.76" fill="none" stroke="#c00000" stroke-width="3.4" stroke-linejoin="round"/>
<g fill="none" stroke="#c00000" stroke-width="3.1"><circle cx="181.19" cy="165.67" r="6.90"/><circle cx="190.89" cy="410.99" r="6.90"/><circle cx="200.58" cy="456.06" r="6.90"/><circle cx="210.28" cy="426.87" r="6.90"/><circle cx="219.97" cy="400.27" r="6.90"/><circle cx="229.66" cy="377.74" r="6.90"/><circle cx="239.36" cy="370.53" r="6.90"/><circle cx="249.05" cy="360.37" r="6.90"/><circle cx="258.75" cy="353.35" r="6.90"/><circle cx="268.44" cy="348.18" r="6.90"/><circle cx="278.13" cy="343.75" r="6.90"/><circle cx="287.83" cy="340.73" r="6.90"/><circle cx="297.52" cy="338.83" r="6.90"/><circle cx="307.22" cy="337.83" r="6.90"/><circle cx="316.91" cy="337.83" r="6.90"/><circle cx="326.60" cy="337.83" r="6.90"/><circle cx="336.30" cy="339.13" r="6.90"/><circle cx="345.99" cy="341.53" r="6.90"/><circle cx="355.69" cy="344.19" r="6.90"/><circle cx="365.38" cy="347.07" r="6.90"/><circle cx="375.07" cy="349.69" r="6.90"/><circle cx="384.77" cy="352.06" r="6.90"/><circle cx="394.46" cy="354.33" r="6.90"/><circle cx="404.16" cy="356.55" r="6.90"/><circle cx="413.85" cy="358.76" r="6.90"/><circle cx="423.54" cy="360.97" r="6.90"/><circle cx="433.24" cy="363.17" r="6.90"/><circle cx="442.93" cy="365.34" r="6.90"/><circle cx="452.63" cy="367.49" r="6.90"/><circle cx="462.32" cy="369.61" r="6.90"/><circle cx="472.01" cy="371.73" r="6.90"/><circle cx="481.71" cy="373.86" r="6.90"/><circle cx="491.40" cy="376.28" r="6.90"/><circle cx="501.10" cy="378.62" r="6.90"/><circle cx="510.79" cy="380.85" r="6.90"/><circle cx="520.48" cy="382.96" r="6.90"/><circle cx="530.18" cy="384.93" r="6.90"/><circle cx="539.87" cy="386.81" r="6.90"/><circle cx="549.57" cy="388.65" r="6.90"/><circle cx="559.26" cy="390.51" r="6.90"/><circle cx="568.95" cy="392.44" r="6.90"/><circle cx="578.65" cy="394.47" r="6.90"/><circle cx="588.34" cy="396.67" r="6.90"/><circle cx="598.04" cy="398.97" r="6.90"/><circle cx="607.73" cy="401.21" r="6.90"/><circle cx="617.42" cy="403.23" r="6.90"/><circle cx="627.12" cy="404.73" r="6.90"/><circle cx="636.81" cy="406.15" r="6.90"/><circle cx="646.51" cy="407.50" r="6.90"/><circle cx="656.20" cy="408.78" r="6.90"/><circle cx="665.89" cy="410.01" r="6.90"/><circle cx="675.59" cy="411.20" r="6.90"/><circle cx="685.28" cy="412.36" r="6.90"/><circle cx="694.98" cy="413.50" r="6.90"/><circle cx="704.67" cy="414.63" r="6.90"/><circle cx="714.36" cy="415.76" r="6.90"/><circle cx="724.06" cy="416.91" r="6.90"/><circle cx="733.75" cy="418.07" r="6.90"/><circle cx="743.45" cy="419.27" r="6.90"/><circle cx="753.14" cy="420.52" r="6.90"/><circle cx="762.83" cy="421.81" r="6.90"/><circle cx="772.53" cy="423.18" r="6.90"/><circle cx="782.22" cy="424.64" r="6.90"/><circle cx="791.92" cy="426.20" r="6.90"/><circle cx="801.61" cy="427.81" r="6.90"/><circle cx="811.30" cy="429.41" r="6.90"/><circle cx="821.00" cy="430.96" r="6.90"/><circle cx="830.69" cy="432.41" r="6.90"/><circle cx="840.39" cy="433.59" r="6.90"/><circle cx="850.08" cy="435.00" r="6.90"/><circle cx="859.77" cy="437.83" r="6.90"/><circle cx="869.47" cy="441.65" r="6.90"/><circle cx="879.16" cy="446.08" r="6.90"/><circle cx="888.86" cy="449.45" r="6.90"/><circle cx="898.55" cy="452.44" r="6.90"/><circle cx="908.24" cy="455.15" r="6.90"/><circle cx="917.94" cy="457.67" r="6.90"/><circle cx="927.63" cy="460.08" r="6.90"/><circle cx="937.33" cy="462.46" r="6.90"/><circle cx="947.02" cy="464.91" r="6.90"/><circle cx="956.71" cy="467.43" r="6.90"/><circle cx="966.41" cy="469.88" r="6.90"/><circle cx="976.10" cy="472.28" r="6.90"/><circle cx="985.80" cy="474.66" r="6.90"/><circle cx="995.49" cy="477.04" r="6.90"/><circle cx="1005.18" cy="479.46" r="6.90"/><circle cx="1014.88" cy="481.93" r="6.90"/><circle cx="1024.57" cy="484.51" r="6.90"/><circle cx="1034.27" cy="487.20" r="6.90"/><circle cx="1043.96" cy="490.01" r="6.90"/><circle cx="1053.65" cy="492.87" r="6.90"/><circle cx="1063.35" cy="495.73" r="6.90"/><circle cx="1073.04" cy="498.55" r="6.90"/><circle cx="1082.74" cy="501.32" r="6.90"/><circle cx="1092.43" cy="504.08" r="6.90"/><circle cx="1102.12" cy="506.84" r="6.90"/><circle cx="1111.82" cy="509.58" r="6.90"/><circle cx="1121.51" cy="512.32" r="6.90"/><circle cx="1131.21" cy="515.04" r="6.90"/><circle cx="1140.90" cy="517.76" r="6.90"/></g>
<path d="M181.19,451.26 L190.89,490.79 L200.58,456.06 L210.28,426.87 L219.97,401.01 L229.66,388.45 L239.36,377.74 L249.05,368.50 L258.75,361.77 L268.44,356.68 L278.13,353.01 L287.83,350.40 L297.52,348.42 L307.22,347.44 L316.91,347.54 L326.60,347.81 L336.30,348.78 L345.99,350.40 L355.69,352.47 L365.38,354.83 L375.07,357.07 L384.77,359.26 L394.46,361.32 L404.16,363.33 L413.85,365.33 L423.54,367.31 L433.24,369.29 L442.93,371.25 L452.63,373.21 L462.32,375.15 L472.01,377.10 L481.71,379.05 L491.40,381.00 L501.10,382.92 L510.79,384.79 L520.48,386.60 L530.18,388.33 L539.87,389.99 L549.57,391.61 L559.26,393.22 L568.95,394.87 L578.65,396.58 L588.34,398.43 L598.04,400.38 L607.73,402.27 L617.42,403.97 L627.12,405.47 L636.81,406.89 L646.51,408.24 L656.20,409.52 L665.89,410.75 L675.59,411.94 L685.28,413.10 L694.98,414.24 L704.67,415.37 L714.36,416.50 L724.06,417.64 L733.75,418.81 L743.45,420.01 L753.14,421.25 L762.83,422.55 L772.53,423.92 L782.22,425.38 L791.92,426.94 L801.61,428.55 L811.30,430.15 L821.00,431.70 L830.69,433.15 L840.39,434.33 L850.08,435.74 L859.77,438.57 L869.47,442.39 L879.16,446.82 L888.86,450.19 L898.55,453.18 L908.24,455.89 L917.94,458.41 L927.63,460.81 L937.33,463.20 L947.02,465.64 L956.71,468.17 L966.41,470.62 L976.10,473.02 L985.80,475.40 L995.49,477.78 L1005.18,480.19 L1014.88,482.67 L1024.57,485.25 L1034.27,487.94 L1043.96,490.75 L1053.65,493.60 L1063.35,496.47 L1073.04,499.28 L1082.74,502.06 L1092.43,504.82 L1102.12,507.58 L1111.82,510.32 L1121.51,513.06 L1131.21,515.78 L1140.90,518.50" fill="none" stroke="#c00000" stroke-width="3.4" stroke-linejoin="round"/>
<g fill="#c00000"><circle cx="181.19" cy="451.26" r="7.70"/><circle cx="190.89" cy="490.79" r="7.70"/><circle cx="200.58" cy="456.06" r="7.70"/><circle cx="210.28" cy="426.87" r="7.70"/><circle cx="219.97" cy="401.01" r="7.70"/><circle cx="229.66" cy="388.45" r="7.70"/><circle cx="239.36" cy="377.74" r="7.70"/><circle cx="249.05" cy="368.50" r="7.70"/><circle cx="258.75" cy="361.77" r="7.70"/><circle cx="268.44" cy="356.68" r="7.70"/><circle cx="278.13" cy="353.01" r="7.70"/><circle cx="287.83" cy="350.40" r="7.70"/><circle cx="297.52" cy="348.42" r="7.70"/><circle cx="307.22" cy="347.44" r="7.70"/><circle cx="316.91" cy="347.54" r="7.70"/><circle cx="326.60" cy="347.81" r="7.70"/><circle cx="336.30" cy="348.78" r="7.70"/><circle cx="345.99" cy="350.40" r="7.70"/><circle cx="355.69" cy="352.47" r="7.70"/><circle cx="365.38" cy="354.83" r="7.70"/><circle cx="375.07" cy="357.07" r="7.70"/><circle cx="384.77" cy="359.26" r="7.70"/><circle cx="394.46" cy="361.32" r="7.70"/><circle cx="404.16" cy="363.33" r="7.70"/><circle cx="413.85" cy="365.33" r="7.70"/><circle cx="423.54" cy="367.31" r="7.70"/><circle cx="433.24" cy="369.29" r="7.70"/><circle cx="442.93" cy="371.25" r="7.70"/><circle cx="452.63" cy="373.21" r="7.70"/><circle cx="462.32" cy="375.15" r="7.70"/><circle cx="472.01" cy="377.10" r="7.70"/><circle cx="481.71" cy="379.05" r="7.70"/><circle cx="491.40" cy="381.00" r="7.70"/><circle cx="501.10" cy="382.92" r="7.70"/><circle cx="510.79" cy="384.79" r="7.70"/><circle cx="520.48" cy="386.60" r="7.70"/><circle cx="530.18" cy="388.33" r="7.70"/><circle cx="539.87" cy="389.99" r="7.70"/><circle cx="549.57" cy="391.61" r="7.70"/><circle cx="559.26" cy="393.22" r="7.70"/><circle cx="568.95" cy="394.87" r="7.70"/><circle cx="578.65" cy="396.58" r="7.70"/><circle cx="588.34" cy="398.43" r="7.70"/><circle cx="598.04" cy="400.38" r="7.70"/><circle cx="607.73" cy="402.27" r="7.70"/><circle cx="617.42" cy="403.97" r="7.70"/><circle cx="627.12" cy="405.47" r="7.70"/><circle cx="636.81" cy="406.89" r="7.70"/><circle cx="646.51" cy="408.24" r="7.70"/><circle cx="656.20" cy="409.52" r="7.70"/><circle cx="665.89" cy="410.75" r="7.70"/><circle cx="675.59" cy="411.94" r="7.70"/><circle cx="685.28" cy="413.10" r="7.70"/><circle cx="694.98" cy="414.24" r="7.70"/><circle cx="704.67" cy="415.37" r="7.70"/><circle cx="714.36" cy="416.50" r="7.70"/><circle cx="724.06" cy="417.64" r="7.70"/><circle cx="733.75" cy="418.81" r="7.70"/><circle cx="743.45" cy="420.01" r="7.70"/><circle cx="753.14" cy="421.25" r="7.70"/><circle cx="762.83" cy="422.55" r="7.70"/><circle cx="772.53" cy="423.92" r="7.70"/><circle cx="782.22" cy="425.38" r="7.70"/><circle cx="791.92" cy="426.94" r="7.70"/><circle cx="801.61" cy="428.55" r="7.70"/><circle cx="811.30" cy="430.15" r="7.70"/><circle cx="821.00" cy="431.70" r="7.70"/><circle cx="830.69" cy="433.15" r="7.70"/><circle cx="840.39" cy="434.33" r="7.70"/><circle cx="850.08" cy="435.74" r="7.70"/><circle cx="859.77" cy="438.57" r="7.70"/><circle cx="869.47" cy="442.39" r="7.70"/><circle cx="879.16" cy="446.82" r="7.70"/><circle cx="888.86" cy="450.19" r="7.70"/><circle cx="898.55" cy="453.18" r="7.70"/><circle cx="908.24" cy="455.89" r="7.70"/><circle cx="917.94" cy="458.41" r="7.70"/><circle cx="927.63" cy="460.81" r="7.70"/><circle cx="937.33" cy="463.20" r="7.70"/><circle cx="947.02" cy="465.64" r="7.70"/><circle cx="956.71" cy="468.17" r="7.70"/><circle cx="966.41" cy="470.62" r="7.70"/><circle cx="976.10" cy="473.02" r="7.70"/><circle cx="985.80" cy="475.40" r="7.70"/><circle cx="995.49" cy="477.78" r="7.70"/><circle cx="1005.18" cy="480.19" r="7.70"/><circle cx="1014.88" cy="482.67" r="7.70"/><circle cx="1024.57" cy="485.25" r="7.70"/><circle cx="1034.27" cy="487.94" r="7.70"/><circle cx="1043.96" cy="490.75" r="7.70"/><circle cx="1053.65" cy="493.60" r="7.70"/><circle cx="1063.35" cy="496.47" r="7.70"/><circle cx="1073.04" cy="499.28" r="7.70"/><circle cx="1082.74" cy="502.06" r="7.70"/><circle cx="1092.43" cy="504.82" r="7.70"/><circle cx="1102.12" cy="507.58" r="7.70"/><circle cx="1111.82" cy="510.32" r="7.70"/><circle cx="1121.51" cy="513.06" r="7.70"/><circle cx="1131.21" cy="515.78" r="7.70"/><circle cx="1140.90" cy="518.50" r="7.70"/></g>
<path d="M843.60,21.40 L1260.00,21.40 L1260.00,326.80" stroke="#505050" stroke-width="3.4" fill="none" stroke-linejoin="round"/><path d="M833.3,326.80 L843.60,326.80 M833.3,250.45 L843.60,250.45 M833.3,174.10 L843.60,174.10 M833.3,97.75 L843.60,97.75 M833.3,21.40 L843.60,21.40 M843.60,326.80 L843.60,336.8 M947.70,326.80 L947.70,336.8 M1051.80,326.80 L1051.80,336.8 M1155.90,326.80 L1155.90,336.8 M1260.00,326.80 L1260.00,336.8 " stroke="#000" stroke-width="3.6" fill="none"/><path d="M843.60,19.70 L843.60,326.80 L1261.70,326.80" stroke="#000" stroke-width="3.8" fill="none"/><path d="M947.70,105.77 L1051.80,207.69 L1155.90,262.28" stroke="#000" stroke-width="3.6" fill="none" stroke-linejoin="round"/><g fill="#000"><circle cx="947.70" cy="105.77" r="7.2"/><circle cx="1051.80" cy="207.69" r="7.2"/><circle cx="1155.90" cy="262.28" r="7.2"/></g>
<path d="M437.2,537.6 L473.90000000000003,537.6" stroke="#000000" stroke-width="3.4" stroke-linecap="round"/><circle cx="455.9" cy="537.6" r="7.7" fill="#000000"/><path d="M642.2,537.6 L680.3,537.6" stroke="#0070c0" stroke-width="3.4" stroke-linecap="round"/><circle cx="661.6" cy="537.6" r="7.7" fill="#0070c0"/><path d="M826.5,537.6 L864.5999999999999,537.6" stroke="#c00000" stroke-width="3.4" stroke-linecap="round"/><circle cx="845.2" cy="537.6" r="7.7" fill="#c00000"/>
<g font-family="'Liberation Sans', sans-serif" font-weight="bold" font-size="100" fill="#000">
<text transform="matrix(0.38936,0,0,0.38310,115.143,797.117)">0</text>
<text transform="matrix(0.35590,0,0,0.38310,76.988,649.317)">400</text>
<text transform="matrix(0.35812,0,0,0.38310,76.626,501.517)">800</text>
<text transform="matrix(0.36415,0,0,0.38310,55.615,353.717)">1200</text>
<text transform="matrix(0.36415,0,0,0.38310,55.615,206.017)">1600</text>
<text transform="matrix(0.35907,0,0,0.38310,56.723,58.217)">2000</text>
<text transform="matrix(0.41915,0,0,0.37746,159.973,848.623)">0</text>
<text transform="matrix(0.36346,0,0,0.37746,345.390,848.623)">20</text>
<text transform="matrix(0.36000,0,0,0.37746,539.640,848.623)">40</text>
<text transform="matrix(0.36699,0,0,0.37746,732.772,848.623)">60</text>
<text transform="matrix(0.36346,0,0,0.37746,927.030,848.623)">80</text>
<text transform="matrix(0.35669,0,0,0.37746,1110.760,848.623)">100</text>
<text transform="matrix(0.37568,0,0,0.44932,523.897,911.500)">Cycle</text>
<text transform="matrix(0.42123,0,0,0.44932,634.551,911.500)">number</text>
<text transform="matrix(0,-0.41593,0.43425,0,38.700,580.864)">Capacity,</text>
<text transform="matrix(0,-0.45253,0.43425,0,38.700,388.568)">mAh/g</text>
<text transform="matrix(0.30213,0,0,0.29296,797.891,336.707)">0</text>
<text transform="matrix(0.28854,0,0,0.29296,766.269,260.357)">100</text>
<text transform="matrix(0.28312,0,0,0.29296,767.151,184.007)">200</text>
<text transform="matrix(0.28137,0,0,0.29296,767.437,107.657)">300</text>
<text transform="matrix(0.28137,0,0,0.29296,767.437,31.307)">400</text>
<text transform="matrix(0.28952,0,0,0.29718,827.821,379.103)">30</text>
<text transform="matrix(0.28952,0,0,0.29718,931.921,379.103)">40</text>
<text transform="matrix(0.29231,0,0,0.29718,1035.723,379.103)">50</text>
<text transform="matrix(0.29515,0,0,0.29718,1139.519,379.103)">60</text>
<text transform="matrix(0.29515,0,0,0.29718,1243.619,379.103)">70</text>
<text transform="matrix(0,-0.28469,0.29130,0,749.300,329.493)">Irreversible</text>
<text transform="matrix(0,-0.28561,0.29130,0,749.300,169.442)">capacity,</text>
<text transform="matrix(0,-0.23373,0.29130,0,749.300,43.401)">%</text>
<text transform="matrix(0.26127,0,0,0.30137,922.016,421.200)">Sulfur</text>
<text transform="matrix(0.27432,0,0,0.30137,1006.080,421.200)">loading,</text>
<text transform="matrix(0.28545,0,0,0.30137,1118.900,421.200)">wt</text>
<text transform="matrix(0.25422,0,0,0.30137,1158.937,421.200)">%</text>
<text transform="matrix(0.34574,0,0,0.38986,1049.176,94.400)">1</text>
<text transform="matrix(0.21548,0,0,0.20758,1069.138,75.392)">st</text>
<text transform="matrix(0.33951,0,0,0.37671,1098.642,94.400)">cycle</text>
<text transform="matrix(0.39080,0,0,0.44930,478.318,550.951)">40%S</text>
<text transform="matrix(0.38692,0,0,0.44930,684.339,550.951)">50%S</text>
<text transform="matrix(0.38842,0,0,0.44930,868.946,550.951)">60%S</text>
</g>
</g>
</svg></body></html>
